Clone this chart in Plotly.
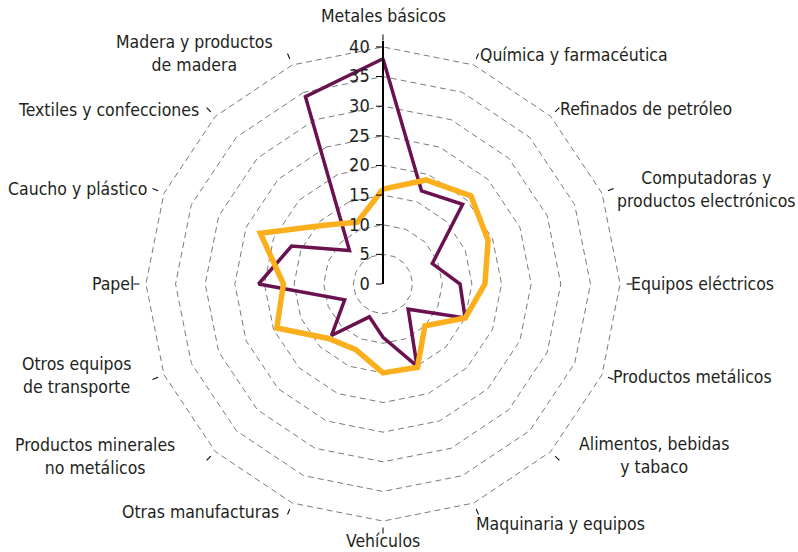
import math

import plotly.graph_objects as go

CATEGORIES = [
    "Metales básicos",
    "Química y farmacéutica",
    "Refinados de petróleo",
    "Computadoras y<br>productos electrónicos",
    "Equipos eléctricos",
    "Productos metálicos",
    "Alimentos, bebidas<br>y tabaco",
    "Maquinaria y equipos",
    "Vehículos",
    "Otras manufacturas",
    "Productos minerales<br>no metálicos",
    "Otros equipos<br>de transporte",
    "Papel",
    "Caucho y plástico",
    "Textiles y confecciones",
    "Madera y productos<br>de madera",
]

SERIES_PURPLE = [38, 17, 19, 9, 13, 15, 6, 15, 9, 6, 12.3, 7, 21, 16.7, 8, 34.2]
SERIES_ORANGE = [16, 19, 21, 19.2, 17.2, 15, 10, 15.2, 15, 12, 13, 19.4, 16.8, 22.4, 14, 11.3]

RADIAL_TICKS = [0, 5, 10, 15, 20, 25, 30, 35, 40]

FONT = "DejaVu Sans Condensed, Liberation Sans Narrow, Roboto, sans-serif"
TEXT_COLOR = "#231F20"

W, H = 798, 552
CX, CY = 383, 284          # polar centre, px
R_OUTER = 243              # px for the full radial range
LABEL_R = 248              # px, where category labels are anchored
# small per-label nudges (dx right, dy down), px
LABEL_NUDGE = [
    (0, -8), (0, 0), (0, 0), (3, 0), (-2, 0), (-1, -2), (19, -4), (-4, 11),
    (0, -3), (-7, -1), (-31, -3), (-21, -3), (1, 0), (-5, 0), (-7, 1), (-13, -1),
]


def closed(values):
    return values + values[:1]


fig = go.Figure()
fig.add_trace(
    go.Scatterpolar(
        r=closed(SERIES_PURPLE),
        theta=closed(CATEGORIES),
        mode="lines",
        line=dict(color="#6A1250", width=3.5),
        showlegend=False,
        hoverinfo="skip",
    )
)
fig.add_trace(
    go.Scatterpolar(
        r=closed(SERIES_ORANGE),
        theta=closed(CATEGORIES),
        mode="lines",
        line=dict(color="#FBAF1C", width=5.5),
        showlegend=False,
        hoverinfo="skip",
    )
)

# category labels as annotations so two-line labels stay centred
n = len(CATEGORIES)
for i, label in enumerate(CATEGORIES):
    ang = math.radians(i * 360 / n)
    s, c = math.sin(ang), math.cos(ang)
    px = CX + LABEL_R * s
    py = CY - LABEL_R * c
    xanchor = "left" if s > 0.1 else ("right" if s < -0.1 else "center")
    if c > 0.99:
        yanchor = "bottom"
    elif c < -0.99:
        yanchor = "top"
    else:
        yanchor = "middle"
    dx, dy = LABEL_NUDGE[i]
    fig.add_annotation(
        x=(px + dx) / W,
        y=1 - (py + dy) / H,
        xref="paper",
        yref="paper",
        text=label,
        showarrow=False,
        xanchor=xanchor,
        yanchor=yanchor,
        align="center",
        font=dict(size=17.5, color=TEXT_COLOR),
    )

fig.update_layout(
    width=W,
    height=H,
    margin=dict(l=0, r=0, t=0, b=0),
    paper_bgcolor="white",
    font=dict(family=FONT, size=18, color=TEXT_COLOR),
    polar=dict(
        domain=dict(
            x=[(CX - R_OUTER) / W, (CX + R_OUTER) / W],
            y=[1 - (CY + R_OUTER) / H, 1 - (CY - R_OUTER) / H],
        ),
        bgcolor="white",
        gridshape="linear",
        radialaxis=dict(
            range=[0, 41],
            tickvals=RADIAL_TICKS,
            angle=90,
            tickangle=90,
            side="counterclockwise",
            showline=True,
            linecolor="black",
            linewidth=2,
            ticks="outside",
            ticklen=6,
            tickcolor="black",
            gridcolor="#7a7a7a",
            griddash="6px,4px",
            gridwidth=1,
            tickfont=dict(size=18, color=TEXT_COLOR),
        ),
        angularaxis=dict(
            direction="clockwise",
            rotation=90,
            showgrid=False,
            showline=False,
            showticklabels=False,
            ticks="outside",
            ticklen=6,
            tickcolor="black",
        ),
    ),
)

fig.write_html(
    "out.html",
    config={"displayModeBar": False},
    post_script="document.body.style.margin = '0';",
)
